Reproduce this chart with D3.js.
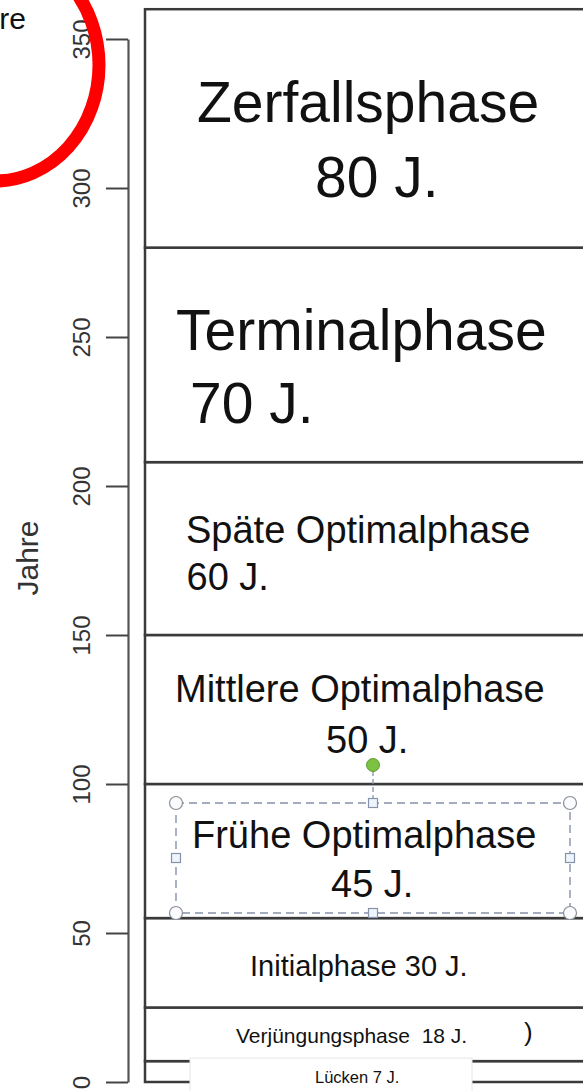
<!DOCTYPE html>
<html>
<head>
<meta charset="utf-8">
<script src="https://cdn.jsdelivr.net/npm/d3@7"></script>
<style>
  body { margin: 0; background: #fff; overflow: hidden; }
  svg { display: block; font-family: "Liberation Sans", Arial, sans-serif; }
  .phase text { white-space: pre; fill: #111; }
</style>
</head>
<body>
<div id="chart"></div>
<script>
// Data: phases from bottom to top
var phaseNames = ["Lücken", "Verjüngungsphase", "Initialphase", "Frühe Optimalphase",
    "Mittlere Optimalphase", "Späte Optimalphase", "Terminalphase", "Zerfallsphase"];
var phaseYears = [7, 18, 30, 45, 50, 60, 70, 80];
// upper boundary of every phase
var phaseTops = [7, 25, 55, 100, 150, 208, 280, 360];
var yTicks = [0, 50, 100, 150, 200, 250, 300, 350];
var yTitle = "Jahre";

// Svg Dimensions
var svgWidth = 583;
var svgHeight = 1091;

var svg = d3.select("#chart")
    .append("svg")
    .attr("width", svgWidth)
    .attr("height", svgHeight);

// Y scale
var yScale = d3.scaleLinear()
    .domain([0, 350])
    .range([1082, 39]);

// Label layout per phase (lines, x, offset from band middle, font size)
var labelLayout = [
    [{t: "Lücken " + phaseYears[0] + " J.", x: 315, dy: 11.5, fs: 16.5}],
    [{t: "Verjüngungsphase  " + phaseYears[1] + " J.", x: 236, dy: 8.7, fs: 21},
     {t: ")", x: 524, dy: 7, fs: 26}],
    [{t: "Initialphase " + phaseYears[2] + " J.", x: 250, dy: 13.5, fs: 29}],
    [{t: "Frühe Optimalphase", x: 192, dy: -3, fs: 38},
     {t: phaseYears[3] + " J.", x: 331, dy: 46, fs: 38}],
    [{t: "Mittlere Optimalphase", x: 175, dy: -7.5, fs: 38},
     {t: phaseYears[4] + " J.", x: 326, dy: 43.5, fs: 38}],
    [{t: "Späte Optimalphase", x: 186, dy: -5.5, fs: 38},
     {t: phaseYears[5] + " J.", x: 186.5, dy: 41.5, fs: 38}],
    [{t: "Terminalphase", x: 176, dy: -5, fs: 57},
     {t: phaseYears[6] + " J.", x: 190, dy: 68, fs: 57}],
    [{t: "Zerfallsphase", x: 197, dy: -6.5, fs: 57},
     {t: phaseYears[7] + " J.", x: 315, dy: 68.5, fs: 57}]
];

var boxLeft = 145;
var boxRight = 640;

// Phase bands
var bands = phaseNames.map(function(name, i) {
    return {name: name, bottom: i === 0 ? 0 : phaseTops[i - 1], top: phaseTops[i], lines: labelLayout[i]};
});

var bandGroup = svg.append("g").classed("phase", true);

bandGroup.selectAll("rect")
    .data(bands)
    .enter()
    .append("rect")
    .attr("x", boxLeft)
    .attr("y", d => yScale(d.top))
    .attr("width", boxRight - boxLeft)
    .attr("height", d => yScale(d.bottom) - yScale(d.top))
    .attr("fill", "#fff")
    .attr("stroke", "#3a3a3a")
    .attr("stroke-width", 2.5);

// Lücken label box covers the lowest lines
svg.append("rect")
    .attr("x", 190)
    .attr("y", yScale(phaseTops[0]) - 3)
    .attr("width", 282)
    .attr("height", 40)
    .attr("fill", "#fff")
    .attr("stroke", "#e6e6e6")
    .attr("stroke-width", 1);

var labelGroup = svg.append("g").classed("phase", true);
bands.forEach(function(b) {
    var mid = (yScale(b.bottom) + yScale(b.top)) / 2;
    b.lines.forEach(function(l) {
        labelGroup.append("text")
            .attr("x", l.x)
            .attr("y", mid + l.dy)
            .attr("font-size", l.fs + "px")
            .text(l.t);
    });
});

// Y axis
var leftAxis = d3.axisLeft(yScale)
    .tickValues(yTicks)
    .tickSize(22)
    .tickSizeOuter(0)
    .tickPadding(0);

var yAxis = svg.append("g")
    .attr("transform", "translate(128, 0)")
    .call(leftAxis);

yAxis.select(".domain")
    .attr("stroke", "#555")
    .attr("stroke-width", 2.2);
yAxis.selectAll(".tick line")
    .attr("stroke", "#444")
    .attr("stroke-width", 2);
yAxis.selectAll(".tick text")
    .attr("transform", "rotate(-90)")
    .attr("x", 0)
    .attr("y", -38)
    .attr("dy", 0)
    .attr("text-anchor", "middle")
    .attr("font-family", "Liberation Sans, Arial, sans-serif")
    .attr("font-size", "24px")
    .attr("fill", "#333");

// Y title
svg.append("text")
    .attr("transform", "translate(38, 558) rotate(-90)")
    .attr("text-anchor", "middle")
    .attr("font-size", "30px")
    .attr("fill", "#333")
    .text(yTitle);

// Selection handles around the "Frühe Optimalphase" label
var sel = {x0: 176, x1: 570, y0: 803, y1: 913};
var xm = (sel.x0 + sel.x1) / 2, ym = (sel.y0 + sel.y1) / 2;
var handleColor = "#8593aa";
var selGroup = svg.append("g");

selGroup.append("line")
    .attr("x1", xm).attr("x2", xm)
    .attr("y1", 771).attr("y2", sel.y0)
    .attr("stroke", handleColor)
    .attr("stroke-width", 1.3)
    .attr("stroke-dasharray", "5,3");

selGroup.append("rect")
    .attr("x", sel.x0).attr("y", sel.y0)
    .attr("width", sel.x1 - sel.x0).attr("height", sel.y1 - sel.y0)
    .attr("fill", "none")
    .attr("stroke", handleColor)
    .attr("stroke-width", 1.4)
    .attr("stroke-dasharray", "8,5");

[[sel.x0, sel.y0], [sel.x1, sel.y0], [sel.x0, sel.y1], [sel.x1, sel.y1]].forEach(function(p) {
    selGroup.append("circle")
        .attr("cx", p[0]).attr("cy", p[1]).attr("r", 6.5)
        .attr("fill", "#fafbfc")
        .attr("stroke", "#8a8f98")
        .attr("stroke-width", 1.2);
});

[[xm, sel.y0], [xm, sel.y1], [sel.x0, ym], [sel.x1, ym]].forEach(function(p) {
    selGroup.append("rect")
        .attr("x", p[0] - 4.5).attr("y", p[1] - 4.5)
        .attr("width", 9).attr("height", 9)
        .attr("fill", "#eef4fb")
        .attr("stroke", handleColor)
        .attr("stroke-width", 1.2);
});

selGroup.append("circle")
    .attr("cx", xm).attr("cy", 765).attr("r", 6.5)
    .attr("fill", "#7cc142")
    .attr("stroke", "#5e9a33")
    .attr("stroke-width", 1);

// Cropped title fragment and red highlight ring
svg.append("text")
    .attr("x", 26)
    .attr("y", 29)
    .attr("text-anchor", "end")
    .attr("font-size", "30px")
    .attr("fill", "#111")
    .text("re");

svg.append("ellipse")
    .attr("cx", -5)
    .attr("cy", 65)
    .attr("rx", 104)
    .attr("ry", 116)
    .attr("fill", "none")
    .attr("stroke", "#ff0000")
    .attr("stroke-width", 13);
</script>
</body>
</html>
